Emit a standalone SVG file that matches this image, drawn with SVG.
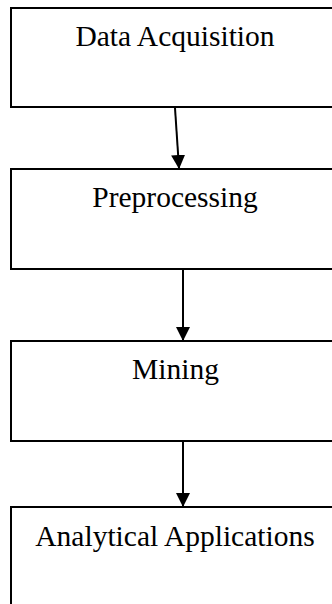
<svg xmlns="http://www.w3.org/2000/svg" width="332" height="604" viewBox="0 0 332 604">
<style>
.box{fill:#fff;stroke:#000;stroke-width:2}
.lbl{font-family:"Liberation Serif","Times New Roman",serif;font-size:29.5px;fill:#000;text-anchor:middle}
.conn{stroke:#000;stroke-width:2;fill:none;marker-end:url(#ah)}
</style>
<defs>
<marker id="ah" markerWidth="7" markerHeight="7" refX="6.5" refY="3.5" orient="auto" markerUnits="strokeWidth">
<path d="M0,0 L7,3.5 L0,7 z" fill="#000"/>
</marker>
</defs>
<rect width="332" height="604" fill="#fff"/>
<g id="n1"><rect class="box" x="11" y="8" width="340" height="99"/><text class="lbl" x="175" y="46">Data Acquisition</text></g>
<g id="n2"><rect class="box" x="11" y="169" width="340" height="100"/><text class="lbl" x="175" y="207">Preprocessing</text></g>
<g id="n3"><rect class="box" x="11" y="341" width="340" height="100"/><text class="lbl" x="175.5" y="379">Mining</text></g>
<g id="n4"><rect class="box" x="11" y="507" width="340" height="120"/><text class="lbl" x="175" y="546">Analytical Applications</text></g>
<g id="connectors">
<line class="conn" x1="175" y1="108" x2="179" y2="168"/>
<line class="conn" x1="183" y1="270" x2="183" y2="340"/>
<line class="conn" x1="183" y1="442" x2="183" y2="506"/>
</g>
</svg>
